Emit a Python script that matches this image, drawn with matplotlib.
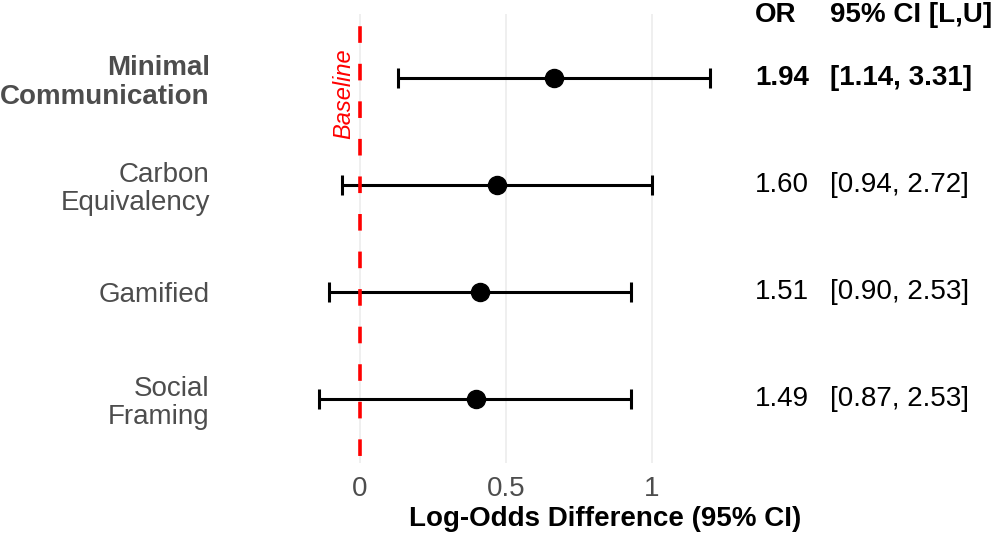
import matplotlib
matplotlib.use("Agg")
import matplotlib.pyplot as plt
import numpy as np

plt.rcParams["font.family"] = ["Liberation Sans", "DejaVu Sans"]

# data (odds ratios with 95% CI, as printed on the chart)
categories = ["Minimal\nCommunication", "Carbon\nEquivalency", "Gamified", "Social\nFraming"]
odds_ratio = [1.94, 1.60, 1.51, 1.49]
ci_low = [1.14, 0.94, 0.90, 0.87]
ci_high = [3.31, 2.72, 2.53, 2.53]
x_ticks = [0, 0.5, 1]
x_tick_labels = ["0", "0.5", "1"]
highlight = "Minimal\nCommunication"

log_or = np.log(odds_ratio)
log_low = np.log(ci_low)
log_high = np.log(ci_high)
rows = np.arange(1, len(categories) + 1)

W, H = 996, 535
fig = plt.figure(figsize=(W / 100, H / 100), dpi=100)
left, right, top, bottom = 214, 996, 14, 463
ax = fig.add_axes([left / W, 1 - bottom / H, (right - left) / W, (bottom - top) / H])

px_per_unit = 292
x0 = -(360 - left) / px_per_unit
ax.set_xlim(x0, x0 + (right - left) / px_per_unit)
ax.set_ylim(len(categories) + 0.6, 0.4)

ax.set_axisbelow(True)
ax.grid(axis="x", color="#ebebeb", linewidth=1.1)
ax.grid(axis="y", visible=False)
for s in ax.spines.values():
    s.set_visible(False)

ax.errorbar(log_or, rows, xerr=[log_or - log_low, log_high - log_or], fmt="none",
            ecolor="black", elinewidth=2.2, capsize=7.5, capthick=2.2, zorder=2)
ax.axvline(0, color="red", linewidth=2.6, linestyle=(8.45, (4.6, 5.8)), zorder=3)
ax.plot(log_or, rows, "o", color="black", markersize=13, zorder=4)
ax.text(-0.055, 1.145, "Baseline", color="red", style="italic", rotation=90,
        ha="center", va="center", fontsize=17)

ax.set_xticks(x_ticks)
ax.set_xticklabels(x_tick_labels)
ax.set_yticks(rows)
ax.set_yticklabels(categories, linespacing=1.12)
ax.tick_params(axis="both", length=0, labelsize=20, labelcolor="#4d4d4d")
ax.tick_params(axis="x", pad=9.5)
ax.tick_params(axis="y", pad=3)
for lab, name in zip(ax.get_yticklabels(), categories):
    if name == highlight:
        lab.set_fontweight("bold")
ax.set_xlabel("Log-Odds Difference (95% CI)", fontsize=20, fontweight="bold", labelpad=2.5)

# right-hand text columns
or_x, ci_x = 1.353, 1.61
ax.text(or_x, 0.41, "OR", fontsize=20, fontweight="bold", ha="left", va="center", clip_on=False)
ax.text(ci_x, 0.41, "95% CI [L,U]", fontsize=20, fontweight="bold", ha="left", va="center", clip_on=False)
for r, name, o, lo, hi in zip(rows, categories, odds_ratio, ci_low, ci_high):
    weight = "bold" if name == highlight else "normal"
    ax.text(or_x, r, f"{o:.2f}", fontsize=20, fontweight=weight, ha="left", va="center")
    ax.text(ci_x, r, f"[{lo:.2f}, {hi:.2f}]", fontsize=20, fontweight=weight, ha="left", va="center")

fig.savefig("out.png", dpi=100)
